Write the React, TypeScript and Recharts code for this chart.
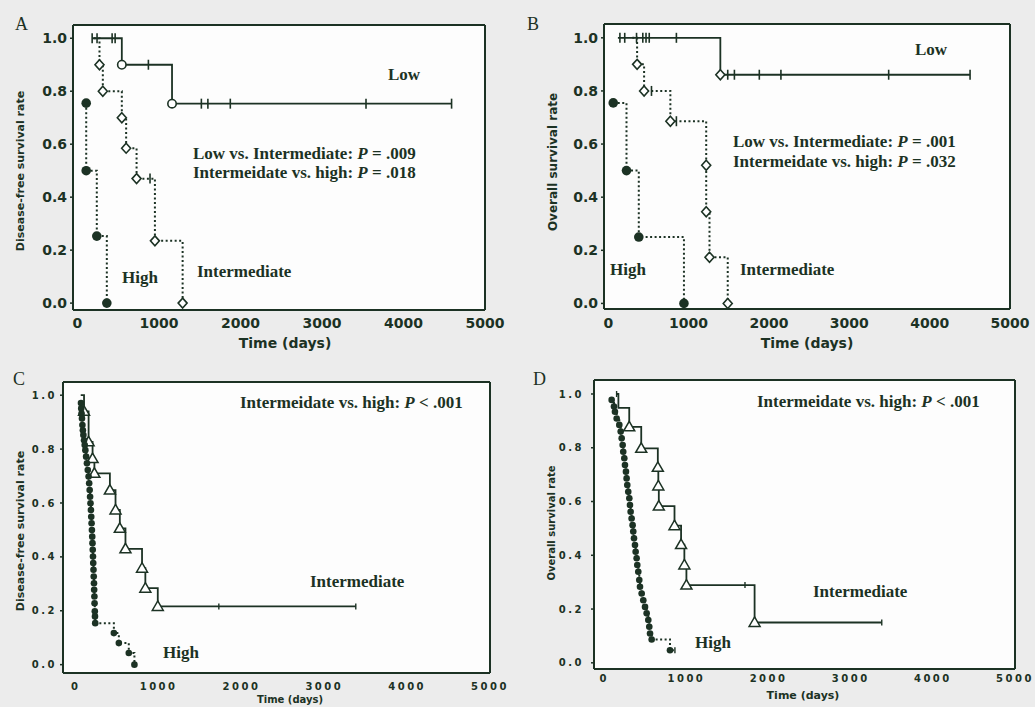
import React from 'react';
import { LineChart, Line, XAxis, YAxis } from 'recharts';

const INK = '#1c3224';

// ---- Panel A: disease-free survival (low / intermediate / high) ----
const aLowT = [180, 240, 425, 462, 544, 870, 1160, 1520, 1600, 1875, 3540, 4590];
const aLowS = [1, 1, 1, 1, 0.9, 0.9, 0.753, 0.753, 0.753, 0.753, 0.753, 0.753];
const aLowM = ['c', 'c', 'c', 'c', 'o', 'c', 'o', 'c', 'c', 'c', 'c', 'c'];

const aIntT = [200, 270, 311, 544, 597, 725, 890, 950, 1290];
const aIntS = [1, 0.9, 0.8, 0.7, 0.585, 0.47, 0.47, 0.235, 0];
const aIntM = ['', 'd', 'd', 'd', 'd', 'd', 'c', 'd', 'd'];

const aHighT = [107, 107, 237, 360];
const aHighS = [0.755, 0.5, 0.253, 0];
const aHighM = ['f', 'f', 'f', 'f'];

// ---- Panel B: overall survival (low / intermediate / high) ----
const bLowT = [120, 145, 205, 352, 430, 470, 510, 848, 1395, 1487, 1570, 1880, 2149, 3490, 4503];
const bLowS = [1, 1, 1, 1, 1, 1, 1, 1, 0.861, 0.861, 0.861, 0.861, 0.861, 0.861, 0.861];
const bLowM = ['', 'c', 'c', 'c', 'c', 'c', 'c', 'c', 'd', 'c', 'c', 'c', 'c', 'c', 'c'];

const bIntT = [300, 359, 446, 538, 773, 848, 1219, 1219, 1260, 1487];
const bIntS = [1, 0.9, 0.8, 0.8, 0.686, 0.686, 0.52, 0.345, 0.174, 0];
const bIntM = ['', 'd', 'd', 'c', 'd', 'c', 'd', 'd', 'd', 'd'];

const bHighT = [62, 227, 380, 942];
const bHighS = [0.755, 0.5, 0.25, 0];
const bHighM = ['f', 'f', 'f', 'f'];

// ---- Panel C: disease-free survival (intermediate / high) ----
const cIntT = [60, 100, 155, 203, 225, 412, 480, 532, 600, 800, 840, 990, 1727, 3380];
const cIntS = [1, 0.94, 0.827, 0.765, 0.71, 0.648, 0.574, 0.506, 0.43, 0.358, 0.284, 0.216, 0.216, 0.216];
const cIntM = ['', 't', 't', 't', 't', 't', 't', 't', 't', 't', 't', 't', 'k', 'k'];

const cHighT = [63, 66, 70, 75, 80, 86, 92, 100, 108, 116, 125, 135, 145, 155, 162, 168, 173, 178, 183, 187,
  191, 195, 199, 202, 205, 208, 211, 214, 217, 220, 222, 225, 227, 230, 232, 235, 460, 520, 640, 708];
const cHighS = [0.971, 0.951, 0.932, 0.914, 0.889, 0.87, 0.852, 0.833, 0.815, 0.796, 0.772, 0.747, 0.722, 0.698,
  0.673, 0.648, 0.623, 0.599, 0.574, 0.549, 0.525, 0.5, 0.475, 0.451, 0.426, 0.401, 0.377, 0.352, 0.327, 0.302,
  0.278, 0.253, 0.228, 0.198, 0.179, 0.154, 0.117, 0.08, 0.043, 0];

// ---- Panel D: overall survival (intermediate / high) ----
const dIntT = [150, 172, 304, 450, 652, 658, 664, 855, 935, 975, 1000, 1713, 1830, 3378];
const dIntS = [1, 0.948, 0.878, 0.798, 0.727, 0.658, 0.583, 0.51, 0.44, 0.364, 0.289, 0.289, 0.15, 0.15];
const dIntM = ['k', '', 't', 't', 't', 't', 't', 't', 't', 't', 't', 'k', 't', 'k'];

const dHighT = [90, 118, 130, 151, 183, 200, 212, 224, 231, 244, 252, 264, 272, 280, 292, 305, 313, 321, 333, 345,
  353, 362, 374, 382, 394, 402, 414, 426, 435, 455, 475, 496, 516, 536, 548, 557, 577, 800, 860];
const dHighS = [0.978, 0.953, 0.934, 0.909, 0.885, 0.86, 0.835, 0.81, 0.785, 0.761, 0.736, 0.711, 0.686, 0.661,
  0.636, 0.612, 0.587, 0.562, 0.537, 0.512, 0.488, 0.463, 0.438, 0.413, 0.389, 0.364, 0.339, 0.308, 0.283, 0.258,
  0.233, 0.208, 0.184, 0.159, 0.134, 0.109, 0.087, 0.047, 0.047];

const xTicks = [0, 1000, 2000, 3000, 4000, 5000];
const yTicks = [0, 0.2, 0.4, 0.6, 0.8, 1.0];
const topTicks = [500, 1500, 2500, 3500, 4500];
const rightTicksAB = [1.008, 0.835, 0.663, 0.495, 0.325, 0.154];
const rightTicksCD = [0.95, 0.85, 0.75, 0.65, 0.55, 0.45, 0.35, 0.25, 0.15, 0.05];
const innerTicks = [1000, 2000, 3000, 4000];

// axis boxes (recharts skips an axis of zero size)
const Y_W = 40;
const X_H = 30;

type Row = { t: number; s: number; m: string };
const rows = (t: number[], s: number[], m: string[] | string): Row[] =>
  t.map((x, i) => ({ t: x, s: s[i], m: typeof m === 'string' ? m : m[i] }));

const renderDot = (p: any) => {
  const { cx, cy, payload, index } = p;
  const k = `dot-${index}`;
  if (cx == null || cy == null) return <g key={k} />;
  switch (payload.m) {
    case 'o':
      return <circle key={k} cx={cx} cy={cy} r={4.2} fill="#fff" stroke={INK} strokeWidth={1.6} />;
    case 'd':
      return (
        <path key={k} d={`M${cx},${cy - 5}L${cx + 4.5},${cy}L${cx},${cy + 5}L${cx - 4.5},${cy}Z`}
          fill="#fff" stroke={INK} strokeWidth={1.6} />
      );
    case 'f':
      return <circle key={k} cx={cx} cy={cy} r={4.8} fill={INK} />;
    case 'p':
      return <circle key={k} cx={cx} cy={cy} r={3.3} fill={INK} />;
    case 't':
      return (
        <path key={k} d={`M${cx},${cy - 5.5}L${cx + 5.5},${cy + 4}L${cx - 5.5},${cy + 4}Z`}
          fill="#fff" stroke={INK} strokeWidth={1.5} />
      );
    case 'c':
      return <line key={k} x1={cx} x2={cx} y1={cy - 5} y2={cy + 5} stroke={INK} strokeWidth={1.6} />;
    case 'k':
      return <line key={k} x1={cx} x2={cx} y1={cy - 3} y2={cy + 3} stroke={INK} strokeWidth={1.4} />;
    default:
      return <g key={k} />;
  }
};

type Series = { data: Row[]; dashed?: boolean };
type Box = { left: number; top: number; width: number; height: number };
type Frame = { x0: number; x1: number; y0: number; y1: number };

interface PanelProps {
  box: Box;
  frame: Frame;
  xDomain: [number, number];
  yDomain: [number, number];
  series: Series[];
  fontSize: number;
  spacing: number;
  xMargin: number;
  yMargin: number;
  rightTicks: number[];
}

const Panel = ({ box, frame, xDomain, yDomain, series, fontSize, spacing, xMargin, yMargin, rightTicks }: PanelProps) => {
  const margin = {
    left: frame.x0 - box.left - Y_W,
    right: box.left + box.width - frame.x1,
    top: frame.y0 - box.top,
    bottom: box.top + box.height - frame.y1 - X_H,
  };
  const tickStyle = {
    fontFamily: '"DejaVu Sans", sans-serif',
    fontWeight: 700,
    fontSize,
    letterSpacing: spacing,
    fill: INK,
  };
  const frameLine = { stroke: INK, strokeWidth: 2 };
  const tickLine = { stroke: INK, strokeWidth: 1.5 };
  return (
    <>
      <div
        style={{
          position: 'absolute',
          left: frame.x0,
          top: frame.y0,
          width: frame.x1 - frame.x0,
          height: frame.y1 - frame.y0,
          background: '#fdfdfd',
        }}
      />
      <div style={{ position: 'absolute', left: box.left, top: box.top }}>
        <LineChart width={box.width} height={box.height} margin={margin}>
          <XAxis type="number" dataKey="t" domain={xDomain} allowDataOverflow ticks={xTicks} height={X_H}
            tick={tickStyle} tickLine={false} tickSize={0} tickMargin={xMargin} axisLine={frameLine} />
          <XAxis xAxisId="inner" type="number" dataKey="t" domain={xDomain} allowDataOverflow ticks={innerTicks}
            orientation="bottom" mirror height={1} tick={false} tickSize={4} axisLine={false} tickLine={tickLine} />
          <XAxis xAxisId="top" type="number" dataKey="t" domain={xDomain} allowDataOverflow ticks={topTicks}
            orientation="top" mirror height={1} tick={false} tickSize={4} axisLine={frameLine} tickLine={tickLine} />
          <YAxis type="number" domain={yDomain} allowDataOverflow ticks={yTicks} width={Y_W}
            tickFormatter={(v: number) => v.toFixed(1)} tick={tickStyle} tickSize={3} tickMargin={yMargin}
            tickLine={tickLine} axisLine={frameLine} />
          <YAxis yAxisId="right" type="number" domain={yDomain} allowDataOverflow ticks={rightTicks}
            orientation="right" mirror width={1} tick={false} tickSize={4} axisLine={frameLine} tickLine={tickLine} />
          {series.map((s, i) => (
            <Line
              key={i}
              data={s.data}
              dataKey="s"
              type="stepAfter"
              stroke={INK}
              strokeWidth={s.dashed ? 2 : 1.8}
              strokeDasharray={s.dashed ? '2 2.5' : undefined}
              dot={renderDot}
              activeDot={false}
              isAnimationActive={false}
            />
          ))}
        </LineChart>
      </div>
    </>
  );
};

const serif = '"Liberation Serif", "Times New Roman", serif';

const Note = ({ x, y, size = 17, children }: { x: number; y: number; size?: number; children: React.ReactNode }) => (
  <div
    style={{
      position: 'absolute',
      left: x,
      top: y - 10,
      fontFamily: serif,
      fontWeight: 700,
      fontSize: size,
      lineHeight: '20px',
      color: INK,
      whiteSpace: 'nowrap',
    }}
  >
    {children}
  </div>
);

const Title = ({ x, y, size, rotate, children }: { x: number; y: number; size: number; rotate?: boolean; children: React.ReactNode }) => (
  <div
    style={{
      position: 'absolute',
      left: x,
      top: y,
      transform: `translate(-50%, -50%)${rotate ? ' rotate(-90deg)' : ''}`,
      fontFamily: '"DejaVu Sans", sans-serif',
      fontWeight: 700,
      fontSize: size,
      lineHeight: `${size + 2}px`,
      color: INK,
      whiteSpace: 'nowrap',
    }}
  >
    {children}
  </div>
);

const Letter = ({ x, y, children }: { x: number; y: number; children: React.ReactNode }) => (
  <div style={{ position: 'absolute', left: x, top: y, fontFamily: serif, fontSize: 18, lineHeight: '18px', color: INK }}>
    {children}
  </div>
);

const App = () => {
  return (
    <div
      style={{
        position: 'absolute',
        left: 0,
        top: 0,
        width: 1035,
        height: 707,
        background: '#ececec',
        overflow: 'hidden',
      }}
    >
      <Panel
        box={{ left: 0, top: 0, width: 517, height: 355 }}
        frame={{ x0: 73, x1: 485, y0: 25, y1: 310 }}
        xDomain={[-55, 5000]}
        yDomain={[-0.026, 1.05]}
        fontSize={14}
        spacing={0}
        xMargin={8}
        yMargin={3}
        rightTicks={rightTicksAB}
        series={[
          { data: rows(aLowT, aLowS, aLowM) },
          { data: rows(aIntT, aIntS, aIntM), dashed: true },
          { data: rows(aHighT, aHighS, aHighM), dashed: true },
        ]}
      />
      <Panel
        box={{ left: 517, top: 0, width: 518, height: 355 }}
        frame={{ x0: 604, x1: 1010, y0: 24, y1: 309 }}
        xDomain={[-53, 5000]}
        yDomain={[-0.021, 1.052]}
        fontSize={14}
        spacing={0}
        xMargin={9}
        yMargin={3}
        rightTicks={rightTicksAB}
        series={[
          { data: rows(bLowT, bLowS, bLowM) },
          { data: rows(bIntT, bIntS, bIntM), dashed: true },
          { data: rows(bHighT, bHighS, bHighM), dashed: true },
        ]}
      />
      <Panel
        box={{ left: 0, top: 355, width: 517, height: 352 }}
        frame={{ x0: 63, x1: 490, y0: 382, y1: 673 }}
        xDomain={[-154, 5000]}
        yDomain={[-0.031, 1.049]}
        fontSize={10}
        spacing={2.5}
        xMargin={10}
        yMargin={3}
        rightTicks={rightTicksCD}
        series={[
          { data: rows(cIntT, cIntS, cIntM) },
          { data: rows(cHighT, cHighS, 'p'), dashed: true },
        ]}
      />
      <Panel
        box={{ left: 517, top: 355, width: 518, height: 352 }}
        frame={{ x0: 594, x1: 1015, y0: 380, y1: 669 }}
        xDomain={[-125, 5000]}
        yDomain={[-0.023, 1.052]}
        fontSize={10}
        spacing={2.5}
        xMargin={6}
        yMargin={7}
        rightTicks={rightTicksCD}
        series={[
          { data: rows(dIntT, dIntS, dIntM) },
          {
            data: rows(dHighT, dHighS, dHighT.map((_, i) => (i === dHighT.length - 1 ? 'k' : 'p'))),
            dashed: true,
          },
        ]}
      />

      {/* panel letters */}
      <Letter x={15} y={15}>A</Letter>
      <Letter x={527} y={15}>B</Letter>
      <Letter x={13} y={370}>C</Letter>
      <Letter x={533} y={370}>D</Letter>

      {/* axis titles */}
      <Title x={20} y={171} size={11} rotate>Disease-free survival rate</Title>
      <Title x={285} y={343} size={14}>Time (days)</Title>
      <Title x={553} y={162} size={12} rotate>Overall survival rate</Title>
      <Title x={807} y={343} size={14}>Time (days)</Title>
      <Title x={20} y={531} size={11} rotate>Disease-free survival rate</Title>
      <Title x={290} y={700} size={10}>Time (days)</Title>
      <Title x={552} y={523} size={10} rotate>Overall survival rate</Title>
      <Title x={803} y={695} size={11}>Time (days)</Title>

      {/* A */}
      <Note x={388} y={75}>Low</Note>
      <Note x={193} y={154}>Low vs. Intermediate: <i>P</i> = .009</Note>
      <Note x={193} y={173}>Intermeidate vs. high: <i>P</i> = .018</Note>
      <Note x={122} y={278}>High</Note>
      <Note x={197} y={272}>Intermediate</Note>

      {/* B */}
      <Note x={915} y={50}>Low</Note>
      <Note x={733} y={142}>Low vs. Intermediate: <i>P</i> = .001</Note>
      <Note x={733} y={162}>Intermeidate vs. high: <i>P</i> = .032</Note>
      <Note x={610} y={270}>High</Note>
      <Note x={740} y={270}>Intermediate</Note>

      {/* C */}
      <Note x={240} y={403}>Intermeidate vs. high: <i>P</i> &lt; .001</Note>
      <Note x={310} y={582}>Intermediate</Note>
      <Note x={163} y={653}>High</Note>

      {/* D */}
      <Note x={757} y={402}>Intermeidate vs. high: <i>P</i> &lt; .001</Note>
      <Note x={813} y={592}>Intermediate</Note>
      <Note x={695} y={643}>High</Note>
    </div>
  );
};

export default App;
